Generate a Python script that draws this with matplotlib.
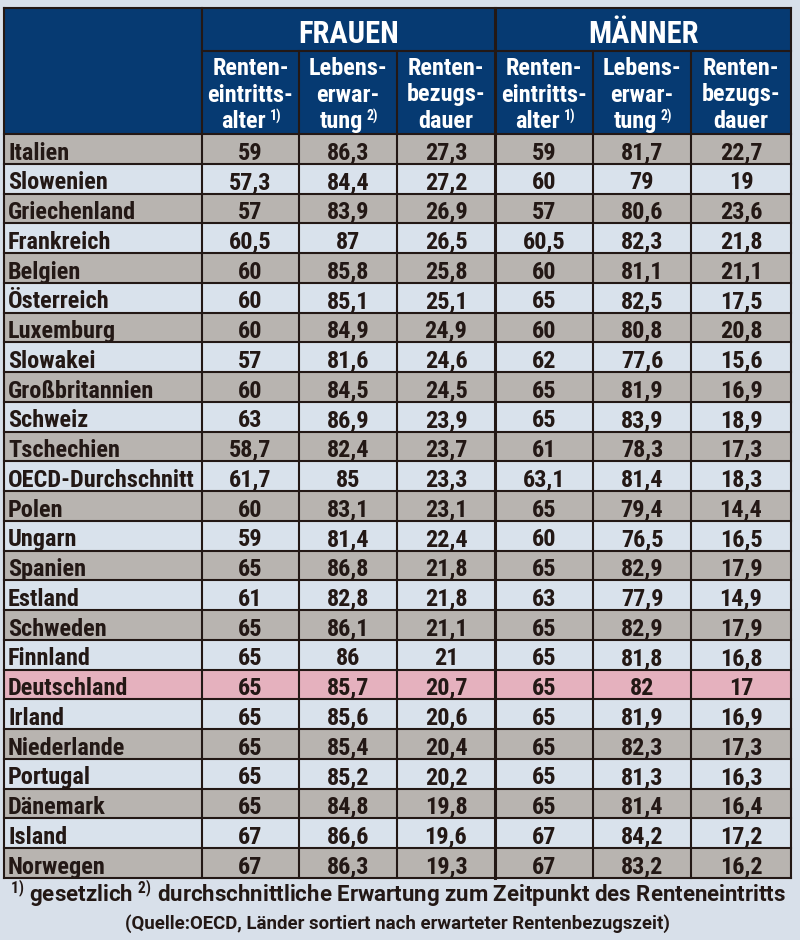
import matplotlib.pyplot as plt
from matplotlib.patches import Rectangle

laender = ["Italien", "Slowenien", "Griechenland", "Frankreich", "Belgien",
           "Österreich", "Luxemburg", "Slowakei", "Großbritannien", "Schweiz",
           "Tschechien", "OECD-Durchschnitt", "Polen", "Ungarn", "Spanien",
           "Estland", "Schweden", "Finnland", "Deutschland", "Irland",
           "Niederlande", "Portugal", "Dänemark", "Island", "Norwegen"]

# Frauen
f_alter = [59, 57.3, 57, 60.5, 60, 60, 60, 57, 60, 63, 58.7, 61.7, 60, 59, 65,
           61, 65, 65, 65, 65, 65, 65, 65, 67, 67]
f_leben = [86.3, 84.4, 83.9, 87, 85.8, 85.1, 84.9, 81.6, 84.5, 86.9, 82.4, 85,
           83.1, 81.4, 86.8, 82.8, 86.1, 86, 85.7, 85.6, 85.4, 85.2, 84.8, 86.6, 86.3]
f_dauer = [27.3, 27.2, 26.9, 26.5, 25.8, 25.1, 24.9, 24.6, 24.5, 23.9, 23.7, 23.3,
           23.1, 22.4, 21.8, 21.8, 21.1, 21, 20.7, 20.6, 20.4, 20.2, 19.8, 19.6, 19.3]

# Maenner
m_alter = [59, 60, 57, 60.5, 60, 65, 60, 62, 65, 65, 61, 63.1, 65, 60, 65,
           63, 65, 65, 65, 65, 65, 65, 65, 67, 67]
m_leben = [81.7, 79, 80.6, 82.3, 81.1, 82.5, 80.8, 77.6, 81.9, 83.9, 78.3, 81.4,
           79.4, 76.5, 82.9, 77.9, 82.9, 81.8, 82, 81.9, 82.3, 81.3, 81.4, 84.2, 83.2]
m_dauer = [22.7, 19, 23.6, 21.8, 21.1, 17.5, 20.8, 15.6, 16.9, 18.9, 17.3, 18.3,
           14.4, 16.5, 17.9, 14.9, 17.9, 16.8, 17, 16.9, 17.3, 16.3, 16.4, 17.2, 16.2]

gruppen = ["FRAUEN", "MÄNNER"]
spalten = [["Renten-", "eintritts-", "alter"],
           ["Lebens-", "erwar-", "tung"],
           ["Renten-", "bezugs-", "dauer"]]
hochzahlen = ["1)", "2)", ""]
hervorgehoben = "Deutschland"

fussnote = "$^{1)}$ gesetzlich $^{2)}$ durchschnittliche Erwartung zum Zeitpunkt des Renteneintritts"
quelle = "(Quelle:OECD, Länder sortiert nach erwarteter Rentenbezugszeit)"

BG = "#d8e0ea"
NAVY = "#063a72"
GRAU = "#b8b4b0"
HELL = "#d9e2ec"
ROSA = "#e5b1be"
INK = "#231815"

FONT = ["Roboto Condensed", "DejaVu Sans"]
plt.rcParams["font.family"] = FONT
plt.rcParams["font.weight"] = "bold"
plt.rcParams["mathtext.fontset"] = "custom"
plt.rcParams["mathtext.rm"] = "Roboto Condensed:bold"
plt.rcParams["mathtext.it"] = "Roboto Condensed:bold"
plt.rcParams["mathtext.bf"] = "Roboto Condensed:bold"

fig = plt.figure(figsize=(8, 9.4), dpi=100)
fig.patch.set_facecolor(BG)
ax = fig.add_axes([0, 0, 1, 1])
ax.set_xlim(0, 800)
ax.set_ylim(940, 0)
ax.axis("off")

# table grid (pixel layout)
xs = [4, 202, 299, 397, 495, 593, 691, 791]
y_top, y_grp, y_head, y_bot = 8, 51, 134, 878
n = len(laender)
rh = (y_bot - y_head) / n


def fmt(v):
    return f"{v:g}".replace(".", ",")


# header background
ax.add_patch(Rectangle((xs[0], y_top), xs[-1] - xs[0], y_head - y_top,
                       facecolor=NAVY, edgecolor="none"))

for g, name in enumerate(gruppen):
    x0, x1 = xs[1 + 3 * g], xs[4 + 3 * g]
    ax.text((x0 + x1) / 2, 43, name, color="white",
            fontsize=22, ha="center", va="baseline", fontweight="bold")
    for k, zeilen in enumerate(spalten):
        c0, c1 = xs[1 + 3 * g + k], xs[2 + 3 * g + k]
        for z, zeile in enumerate(zeilen):
            sup = hochzahlen[k] if z == len(zeilen) - 1 else ""
            shift = -7 if sup else 0
            t = ax.text((c0 + c1) / 2 + shift, 75 + z * 26.5, zeile, color="white",
                        fontsize=17.5, ha="center", va="baseline", fontweight="bold")
            if sup:
                ax.annotate(sup, xy=(1, 0), xycoords=t, xytext=(3, 8.5),
                            textcoords="offset points", color="white",
                            fontsize=10, fontweight="bold", va="baseline")

# rows
werte = [f_alter, f_leben, f_dauer, m_alter, m_leben, m_dauer]
for i, land in enumerate(laender):
    y0 = y_head + i * rh
    if land == hervorgehoben:
        fc = ROSA
    elif i % 2 == 0:
        fc = GRAU
    else:
        fc = HELL
    ax.add_patch(Rectangle((xs[0], y0), xs[-1] - xs[0], rh, facecolor=fc,
                           edgecolor="none"))
    yb = y0 + 25.5
    ax.text(xs[0] + 4, yb, land, color=INK, fontsize=17.5, ha="left",
            va="baseline", fontweight="bold")
    for j, col in enumerate(werte):
        ax.text((xs[j + 1] + xs[j + 2]) / 2, yb, fmt(col[i]), color=INK,
                fontsize=17.5, ha="center", va="baseline", fontweight="bold")

# lines
lw = 1.5
for i in range(n + 1):
    y = y_head + i * rh
    ax.plot([xs[0], xs[-1]], [y, y], color=INK, lw=lw, solid_capstyle="projecting")
ax.plot([xs[0], xs[-1]], [y_top, y_top], color=INK, lw=lw)
ax.plot([xs[1], xs[-1]], [y_grp, y_grp], color=INK, lw=lw)
for k, x in enumerate(xs):
    if k in (0, 1, 4, 7):
        ax.plot([x, x], [y_top, y_bot], color=INK, lw=2.2 if k == 4 else lw)
    else:
        ax.plot([x, x], [y_grp, y_bot], color=INK, lw=lw)

# footnotes
ax.text(398, 902, fussnote, color=INK, fontsize=16.0, ha="center", va="baseline",
        fontweight="bold", family=["Roboto", "DejaVu Sans"])
ax.text(397, 929, quelle, color=INK, fontsize=13.4, ha="center", va="baseline",
        fontweight="bold", family=["Roboto", "DejaVu Sans"])

fig.savefig("out.png", dpi=100, facecolor=BG)
